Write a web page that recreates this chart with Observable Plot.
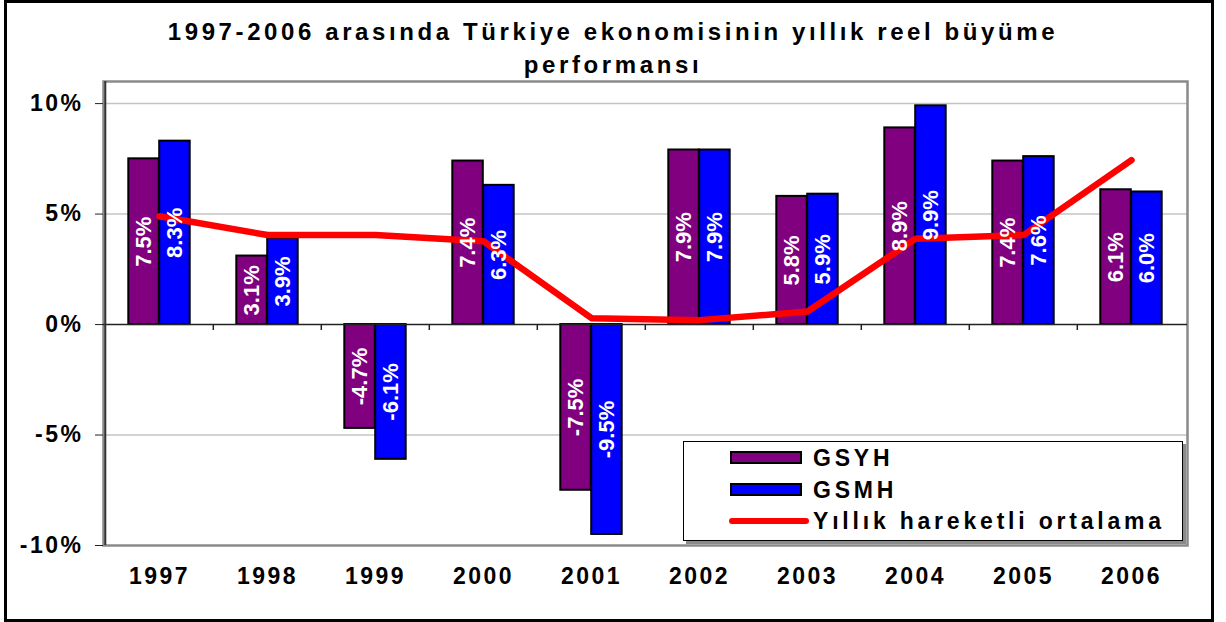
<!DOCTYPE html>
<html>
<head>
<meta charset="utf-8">
<script src="https://cdn.jsdelivr.net/npm/d3@7"></script>
<script src="https://cdn.jsdelivr.net/npm/@observablehq/plot@0.6"></script>
<style>
  html, body { margin: 0; padding: 0; background: #fff; }
  #wrap { position: relative; width: 1226px; height: 622px; overflow: hidden; font-family: Arial, "Liberation Sans", sans-serif; }
  #frame { position: absolute; left: 4px; top: 0px; width: 1210px; height: 622px; box-sizing: border-box; border: 3px solid #000; pointer-events: none; }
  #title { position: absolute; left: 0; top: 15px; width: 1226px; text-align: center; font-size: 24px; font-weight: bold; line-height: 33px; letter-spacing: 3.6px; color: #000; }
  #chart { position: absolute; left: 0; top: 0; }
  #chart svg g[aria-label="x-axis tick label"] text,
  #chart svg g[aria-label="y-axis tick label"] text { letter-spacing: 2.5px; }
  #legend { position: absolute; left: 683px; top: 441px; width: 500px; height: 100px; box-sizing: border-box; border: 1.5px solid #000; background: #fff; box-shadow: 3px 3px 0 #8a8a8a; }
  .item { position: absolute; left: 0; height: 30px; }
  .sw { position: absolute; left: 46px; width: 72px; height: 13px; box-sizing: border-box; border: 2px solid #000; }
  .ln { position: absolute; left: 45px; width: 80px; height: 6px; border-radius: 3px; background: #ff0000; }
  .lt { position: absolute; left: 129px; font-size: 23px; font-weight: bold; letter-spacing: 3.8px; white-space: nowrap; line-height: 30px; }
</style>
</head>
<body>
<div id="wrap">
  <div id="chart"></div>
  <div id="title">1997-2006 arasında Türkiye ekonomisinin yıllık reel büyüme<br>performansı</div>
  <div id="legend"></div>
  <div id="frame"></div>
</div>
<script>
const years = ["1997", "1998", "1999", "2000", "2001", "2002", "2003", "2004", "2005", "2006"];
const gsyh = [7.5, 3.1, -4.7, 7.4, -7.5, 7.9, 5.8, 8.9, 7.4, 6.1];
const gsmh = [8.3, 3.9, -6.1, 6.3, -9.5, 7.9, 5.9, 9.9, 7.6, 6.0];
const movingAvg = [4.9, 4.05, 4.05, 3.77, 0.29, 0.2, 0.59, 3.88, 4.05, 7.44];
const yTicks = [-10, -5, 0, 5, 10];
const seriesNames = ["GSYH", "GSMH", "Yıllık hareketli ortalama"];
const seriesColors = ["#800080", "#0000ff", "#ff0000"];

const data = years.map((year, i) => ({year, gsyh: gsyh[i], gsmh: gsmh[i], avg: movingAvg[i]}));

const W = 1226, H = 622, mL = 103, mR = 39, mT = 81, mB = 77;
const step = (W - mL - mR) / years.length;
const half = step / 2;
const outer = step * 0.215;
const font = 'Arial, "Liberation Sans", sans-serif';
const fmt = v => v.toFixed(1) + "%";

const chart = Plot.plot({
  width: W, height: H,
  marginLeft: mL, marginRight: mR, marginTop: mT, marginBottom: mB,
  style: {background: "transparent", fontFamily: font, color: "#000"},
  x: {type: "band", domain: years, padding: 0, axis: null, label: null},
  y: {domain: [-10, 11], axis: null, label: null},
  marks: [
    Plot.ruleY([-5, 5, 10], {stroke: "#c4c4c4", strokeWidth: 1.5}),
    Plot.frame({stroke: "#8a8a8a", strokeWidth: 2.5}),
    Plot.barY(data, {x: "year", y: "gsyh", fill: seriesColors[0], stroke: "#000", strokeWidth: 2, insetLeft: outer, insetRight: half}),
    Plot.barY(data, {x: "year", y: "gsmh", fill: seriesColors[1], stroke: "#000", strokeWidth: 2, insetLeft: half, insetRight: outer}),
    Plot.ruleY([0], {stroke: "#222", strokeWidth: 1.5}),
    Plot.ruleX(years.slice(1), {x: d => d, dx: -half, y1: 0, y2: -0.27, stroke: "#222", strokeWidth: 1.5}),
    Plot.ruleX([years[0]], {x: d => d, dx: -half, stroke: "#333", strokeWidth: 2}),
    Plot.line(data, {x: "year", y: "avg", stroke: seriesColors[2], strokeWidth: 6.5, strokeLinecap: "round", strokeLinejoin: "round"}),
    Plot.text(data, {x: "year", y: d => d.gsyh / 2, text: d => fmt(d.gsyh), rotate: -90, dx: -(half - outer) / 2, fill: "#fff", fontSize: 22, fontWeight: "bold", textAnchor: "middle"}),
    Plot.text(data, {x: "year", y: d => d.gsmh / 2, text: d => fmt(d.gsmh), rotate: -90, dx: (half - outer) / 2, fill: "#fff", fontSize: 22, fontWeight: "bold", textAnchor: "middle"}),
    Plot.axisY({ticks: yTicks, tickFormat: d => d + "%", tickSize: 8, tickPadding: 12, fontSize: 23, fontWeight: "bold", stroke: "#222", label: null}),
    Plot.axisX({tickSize: 0, tickPadding: 22, fontSize: 23, fontWeight: "bold", label: null})
  ]
});
document.getElementById("chart").appendChild(chart);

const legend = document.getElementById("legend");
const centers = [16, 48, 79];
seriesNames.forEach((name, i) => {
  const item = document.createElement("div");
  item.className = "item";
  item.style.top = (centers[i] - 15) + "px";
  item.style.width = "100%";
  const mark = document.createElement("div");
  if (i < 2) {
    mark.className = "sw";
    mark.style.background = seriesColors[i];
    mark.style.top = "8px";
  } else {
    mark.className = "ln";
    mark.style.top = "12px";
  }
  const label = document.createElement("div");
  label.className = "lt";
  label.textContent = name;
  label.style.top = "0px";
  item.appendChild(mark);
  item.appendChild(label);
  legend.appendChild(item);
});
</script>
</body>
</html>
